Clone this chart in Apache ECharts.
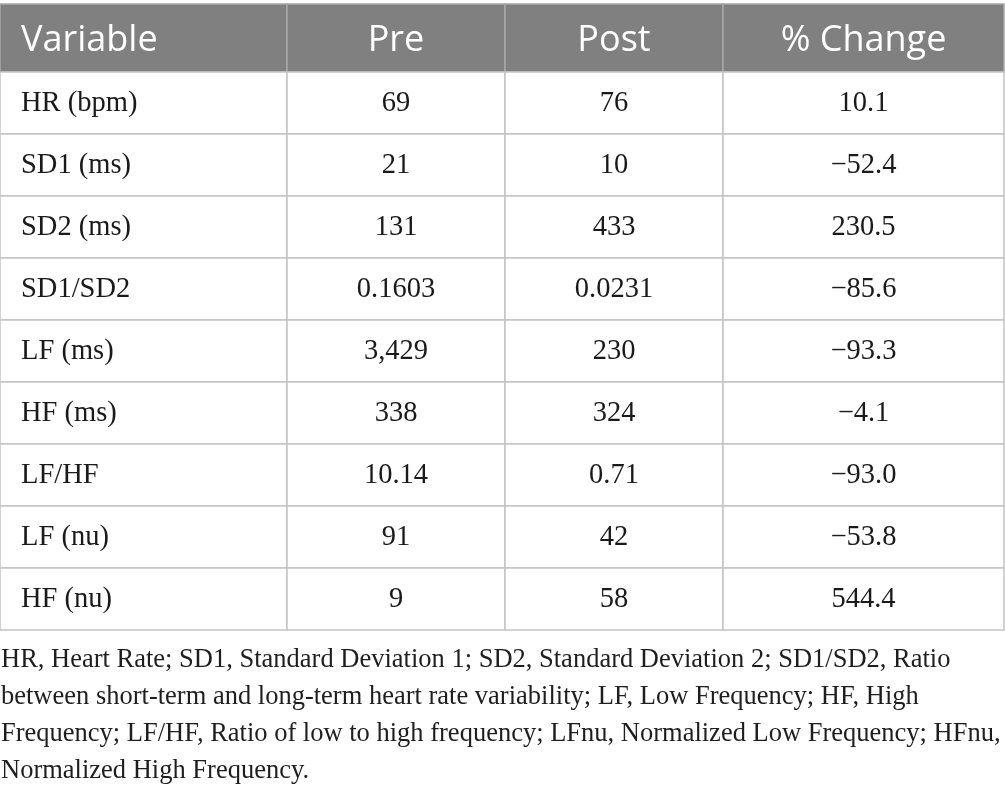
<!DOCTYPE html>
<html>
<head>
<meta charset="utf-8">
<script src="https://cdn.jsdelivr.net/npm/echarts@6/dist/echarts.min.js"></script>
<style>html,body{margin:0;padding:0;background:#fff;}#c{width:1005px;height:794px;}</style>
</head>
<body>
<div id="c"></div>
<script>
// ---- data ----
const headers = ['Variable', 'Pre', 'Post', '% Change'];
const variables = ['HR (bpm)', 'SD1 (ms)', 'SD2 (ms)', 'SD1/SD2', 'LF (ms)', 'HF (ms)', 'LF/HF', 'LF (nu)', 'HF (nu)'];
const pre = ['69', '21', '131', '0.1603', '3,429', '338', '10.14', '91', '9'];
const post = ['76', '10', '433', '0.0231', '230', '324', '0.71', '42', '58'];
const change = ['10.1', '\u221252.4', '230.5', '\u221285.6', '\u221293.3', '\u22124.1', '\u221293.0', '\u221253.8', '544.4'];
const footnote = [
  'HR, Heart Rate; SD1, Standard Deviation 1; SD2, Standard Deviation 2; SD1/SD2, Ratio',
  'between short-term and long-term heart rate variability; LF, Low Frequency; HF, High',
  'Frequency; LF/HF, Ratio of low to high frequency; LFnu, Normalized Low Frequency; HFnu,',
  'Normalized High Frequency.'
];

// ---- layout (not data) ----
const colWidths = [287, 218, 218, 281];
const rowHeights = [68, 62, 62, 62, 62, 62, 62, 62, 62, 62];
const colEdges = [0];
colWidths.forEach(w => colEdges.push(colEdges[colEdges.length - 1] + w));
const rowEdges = [0];
rowHeights.forEach(h => rowEdges.push(rowEdges[rowEdges.length - 1] + h));

const columns = [variables, pre, post, change];
const cells = [];
headers.forEach((h, c) => cells.push([c, 0, h]));
for (let r = 0; r < variables.length; r++) {
  for (let c = 0; c < columns.length; c++) {
    cells.push([c, r + 1, columns[c][r]]);
  }
}

function renderItem(params, api) {
  const c = api.value(0);
  const r = api.value(1);
  const text = cells[params.dataIndex][2];
  const p0 = api.coord([colEdges[c], rowEdges[r]]);
  const p1 = api.coord([colEdges[c + 1], rowEdges[r + 1]]);
  const x = p0[0], y = Math.min(p0[1], p1[1]);
  const w = p1[0] - p0[0], h = Math.abs(p1[1] - p0[1]);
  const isHeader = r === 0;
  const left = c === 0;
  return {
    type: 'group',
    children: [
      {
        type: 'rect',
        shape: { x: x, y: y, width: w, height: h },
        style: {
          fill: isHeader ? '#808080' : '#ffffff',
          stroke: isHeader ? '#a8a8a8' : '#c4c4c4',
          lineWidth: 1.5
        }
      },
      {
        type: 'text',
        style: {
          text: text,
          x: left ? x + 21 : x + w / 2,
          y: y + h / 2 + (isHeader ? 3 : 1),
          align: left ? 'left' : 'center',
          verticalAlign: 'middle',
          fontFamily: isHeader ? 'Open Sans' : 'Liberation Serif',
          fontSize: isHeader ? 36 : 28.5,
          fill: isHeader ? '#ffffff' : '#1a1a1a'
        }
      }
    ]
  };
}

const chart = echarts.init(document.getElementById('c'), null, { renderer: 'canvas' });
chart.setOption({
  animation: false,
  backgroundColor: '#ffffff',
  title: {
    text: footnote.join('\n'),
    left: 1,
    top: 642,
    padding: 0,
    textStyle: {
      fontFamily: 'Liberation Serif',
      fontSize: 26.5,
      lineHeight: 37,
      fontWeight: 'normal',
      color: '#1e1e1e'
    }
  },
  grid: { left: 0, right: 1, top: 4, height: rowEdges[rowEdges.length - 1] },
  xAxis: { type: 'value', min: 0, max: colEdges[colEdges.length - 1], show: false },
  yAxis: { type: 'value', min: 0, max: rowEdges[rowEdges.length - 1], inverse: true, show: false },
  series: [{
    type: 'custom',
    renderItem: renderItem,
    data: cells.map(d => [d[0], d[1]]),
    encode: { x: 0, y: 1 },
    silent: true
  }]
});
</script>
</body>
</html>
